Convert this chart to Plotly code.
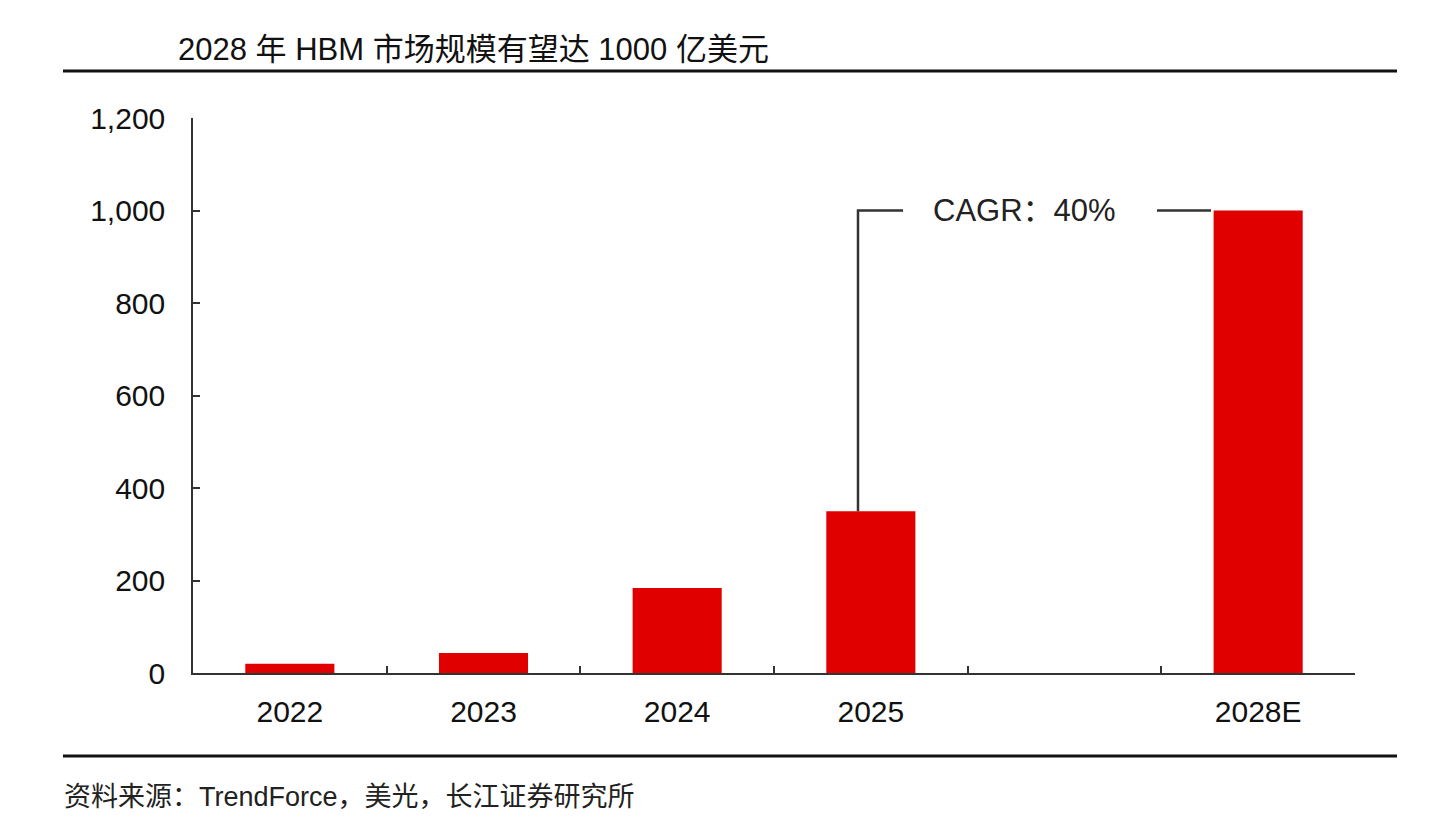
import plotly.graph_objects as go

categories = ["2022", "2023", "2024", "2025", " ", "2028E"]
values = [20, 43, 184, 350, None, 1000]
y_ticks = [0, 200, 400, 600, 800, 1000, 1200]
title_text = "2028 年 HBM 市场规模有望达 1000 亿美元"
source_text = "资料来源：TrendForce，美光，长江证券研究所"
cagr_text = "CAGR：40%"

OFF = 8  # page body margin
W, H = 1439 - 2 * OFF, 827 - 2 * OFF
# target pixel positions in the screenshot
AX_L, AX_R, AX_T, AX_B = 193, 1355, 118, 673
L, T = AX_L - OFF, AX_T - OFF
pw, ph = AX_R - AX_L, AX_B - AX_T
R, B = W - L - pw, H - T - ph
FONT = "Liberation Sans, Arial, Noto Sans CJK SC, sans-serif"

def px(xp):
    return (xp - AX_L) / pw

def py(yp):
    return (AX_B - yp) / ph

def cat(xp):
    return (xp - AX_L) / (pw / len(categories)) - 0.5

fig = go.Figure()
fig.add_trace(go.Bar(x=categories, y=values, marker_color="#E00000",
                     marker_line_width=0, width=0.46, showlegend=False))

line_style = dict(color="#333333", width=2.5)
i_from, i_to = 3, 5
fig.add_shape(type="path", xref="x", yref="y",
              path=f"M {cat(858)},{values[i_from]} L {cat(858)},{values[i_to]} L {cat(903)},{values[i_to]}",
              line=line_style)
fig.add_shape(type="line", xref="x", yref="y", x0=cat(1157), x1=cat(1211),
              y0=values[i_to], y1=values[i_to], line=line_style)
fig.add_annotation(x=cat(1024), y=values[i_to], xref="x", yref="y", text=cagr_text,
                   showarrow=False, font=dict(size=31, color="#222222", family=FONT))

# rules
for yp in (71, 756):
    fig.add_shape(type="line", xref="paper", yref="paper", x0=px(63), x1=px(1397),
                  y0=py(yp), y1=py(yp), line=dict(color="#111111", width=3))

fig.add_annotation(x=px(176), y=py(50), xref="paper", yref="paper", text=title_text,
                   showarrow=False, xanchor="left", yanchor="middle",
                   font=dict(size=31, color="#111111", family=FONT))
fig.add_annotation(x=px(62), y=py(797), xref="paper", yref="paper", text=source_text,
                   showarrow=False, xanchor="left", yanchor="middle",
                   font=dict(size=27, color="#222222", family=FONT))

fig.update_layout(
    width=W, height=H,
    margin=dict(l=L, r=R, t=T, b=B),
    plot_bgcolor="white", paper_bgcolor="white",
    font=dict(family=FONT, size=30, color="#111111"),
    bargap=0.54,
    xaxis=dict(type="category", categoryorder="array", categoryarray=categories,
               range=[-0.5, len(categories) - 0.5], tickson="boundaries",
               ticks="inside", ticklen=7, tickcolor="#333333", tickwidth=1.5,
               showline=True, linecolor="#333333", linewidth=1.5,
               showgrid=False, zeroline=False, ticklabelstandoff=11,
               tickfont=dict(size=30, color="#111111")),
    yaxis=dict(range=[0, 1200], tickvals=y_ticks, tickformat=",",
               ticks="inside", ticklen=7, tickcolor="#333333", tickwidth=1.5,
               showline=True, linecolor="#333333", linewidth=1.5,
               showgrid=False, zeroline=False, ticklabelstandoff=20,
               tickfont=dict(size=30, color="#111111")),
)

fig.write_html("out.html")
